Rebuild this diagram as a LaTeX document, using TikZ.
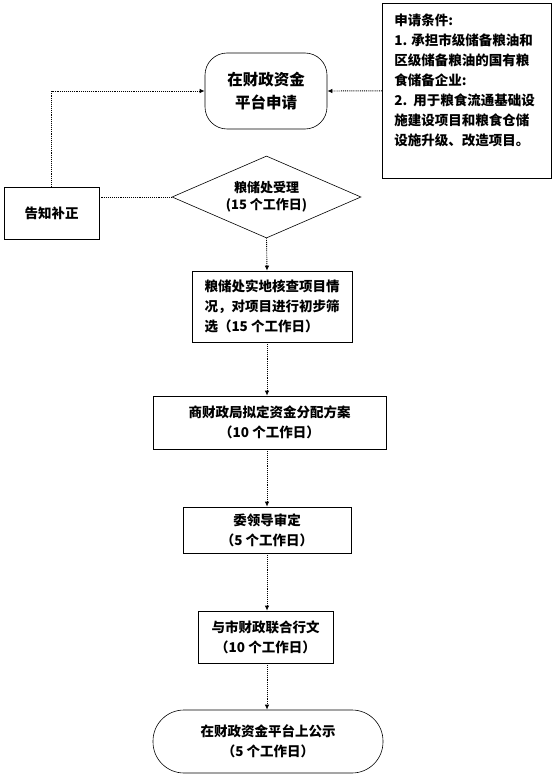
\documentclass[tikz,border=0pt]{standalone}
\usepackage{fontspec}
\newfontfamily\cjk{Noto Sans CJK SC}
\usetikzlibrary{shapes.geometric,arrows.meta}
\tikzset{
  box/.style={draw,line width=0.6pt,inner sep=0pt,align=center,font=\cjk\bfseries\fontsize{13.5}{20}\selectfont},
  link/.style={densely dotted,line width=0.9pt},
  arr/.style={link,-{Latex[length=5pt,width=4.5pt]}}
}
\begin{document}
\begin{tikzpicture}[x=1pt,y=-1pt]
\useasboundingbox (0,0) rectangle (557,778);
\coordinate (axis) at (267,0);
% Nodo domanda
\draw(266,91)node[box,rounded corners=22pt,minimum width=122pt,minimum height=76pt,font=\cjk\bfseries\fontsize{15.5}{23}\selectfont](node apply){在财政资金\\平台申请}
     % Nodo condizioni
     (382,3)node[box,anchor=north west,inner sep=0pt,align=left](node cond){\parbox[t][175pt][t]{169pt}{\hspace*{12pt}\parbox[t]{152pt}{\vspace*{11pt}\raggedright
        申请条件:\\1. 承担市级储备粮油和\\区级储备粮油的国有粮\\食储备企业:\\2.\ \ 用于粮食流通基础设\\施建设项目和粮食仓储\\设施升级、改造项目。}}}
     % Nodo rettifica
     (51.5,213)node[box,minimum width=95pt,minimum height=52pt](node notice){告知补正}
     % Nodo accettazione
     (266.5,197)node[box,diamond,aspect=2.3,minimum width=189pt,minimum height=82pt,font=\cjk\bfseries\fontsize{13}{17}\selectfont](node accept){粮储处受理\\(15 个工作日)}
     % Nodo verifica
     (272,306.5)node[box,minimum width=160pt,minimum height=71pt,align=left](node check){粮储处实地核查项目情\\况，对项目进行初步筛\\选（15 个工作日）}
     (269.5,422.5)node[box,minimum width=233pt,minimum height=53pt](node plan){商财政局拟定资金分配方案\\（10 个工作日）}
     (267,530)node[box,minimum width=168pt,minimum height=46pt](node approve){委领导审定\\（5 个工作日）}
     (265.5,637)node[box,minimum width=135pt,minimum height=52pt](node issue){与市财政联合行文\\（10 个工作日）}
     % Nodo pubblicazione
     (268,741.5)node[box,rounded corners=31pt,minimum width=230pt,minimum height=63pt](node publish){在财政资金平台上公示\\（5 个工作日）};

\draw[arr](node cond.west)--(node apply.east);
\draw[arr](node notice.north)|-(node apply.west);
\draw[link](node accept.west)--(node accept.west -| node notice.east);
% Frecce verso il basso
\draw[arr](node accept.south)--(node check.north -| axis);
\draw[arr](node check.south -| axis)--(node plan.north -| axis);
\draw[arr](node plan.south -| axis)--(node approve.north -| axis);
\draw[arr](node approve.south -| axis)--(node issue.north -| axis);
\draw[arr](node issue.south -| axis)--(node publish.north -| axis);
\end{tikzpicture}
\end{document}
